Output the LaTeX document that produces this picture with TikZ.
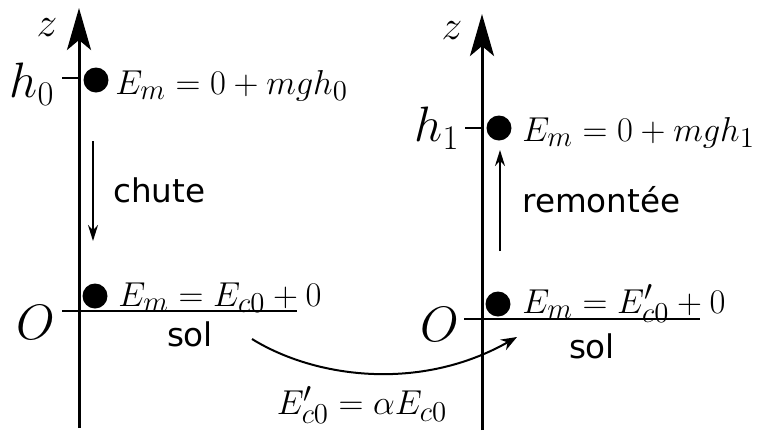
\documentclass[tikz,border=0pt]{standalone}
\usepackage{fontspec}
\newfontfamily\solfont{DejaVu Sans}
\usetikzlibrary{arrows.meta}

\begin{document}
\begin{tikzpicture}[
    x=0.5pt, y=-0.5pt,
    axis/.style={line width=1.5pt, -{Stealth[length=21pt, width=12pt, inset=5pt]}},
    ground/.style={line width=1.4pt},
    tick/.style={line width=1.3pt},
    ball/.style={circle, fill=black, inner sep=0pt, minimum size=12.5pt},
    move/.style={line width=1pt, -{Stealth[length=8pt, width=5pt]}},
    energy/.style={inner sep=0pt, font=\fontsize{19}{23}\selectfont},
    level/.style={inner sep=0pt, font=\fontsize{23}{27}\selectfont},
    axname/.style={inner sep=0pt, font=\fontsize{20}{24}\selectfont},
    word/.style={inner sep=0pt, font=\solfont\fontsize{16.3}{19}\selectfont}
]
\useasboundingbox (0,0) rectangle (757,435);

% Chute
\coordinate (z0-bot) at (79,428);
\coordinate (z0-top) at (79,8);
\draw[axis] (z0-bot) -- (z0-top);
\node[axname] (z0) at (47,28) {$z$};
\node[level, anchor=east] (h0) at (55,84) {$h_0$};
\draw[tick] (62,78) -- (79,78);
\node[ball] (b0) at (96,80) {};
\node[energy, anchor=base west] (e0) at (115,94) {$E_m = 0 + mgh_0$};
\node[level, anchor=east] (o0) at (55,322) {$O$};
\draw[ground] (62,311) -- (297,311);
\node[ball] (b1) at (95,296) {};
\node[energy, anchor=base west] (e1) at (118,306) {$E_m = E_{c0} + 0$};
\node[word] (sol0) at (190,334) {sol};
\coordinate (c0-a) at (93,141);
\coordinate (c0-b) at (93,241);
\draw[move] (c0-a) -- (c0-b);
\node[word, anchor=west] (chute) at (113,190) {chute};

% Remontee
\coordinate (z1-bot) at (482,430);
\coordinate (z1-top) at (482,14);
\draw[axis] (z1-bot) -- (z1-top);
\node[axname] (z1) at (452,31) {$z$};
\node[level, anchor=east] (h1) at (460,128) {$h_1$};
\draw[tick] (465,128) -- (482,128);
\node[ball] (b2) at (499,128) {};
\node[energy, anchor=base west] (e2) at (522,141) {$E_m = 0 + mgh_1$};
\node[level, anchor=east] (o1) at (459,324) {$O$};
\draw[ground] (464,319) -- (700,319);
\node[ball] (b3) at (498,304) {};
\node[energy, anchor=base west] (e3) at (522,313) {$E_m = E'_{c0} + 0$};
\node[word] (sol1) at (592,346) {sol};
\coordinate (r1-a) at (500,251);
\coordinate (r1-b) at (500,150);
\draw[move] (r1-a) -- (r1-b);
\node[word, anchor=west] (remontee) at (522,200) {remontée};

% Rebond
\coordinate (jump-a) at (252,339);
\coordinate (jump-b) at (517,337);
\draw[move, -{Stealth[length=8pt, width=6pt]}] (jump-a) .. controls (315,378) and (420,392) .. (jump-b);
\node[energy] (alpha) at (362,405) {$E'_{c0} = \alpha E_{c0}$};

\end{tikzpicture}
\end{document}
